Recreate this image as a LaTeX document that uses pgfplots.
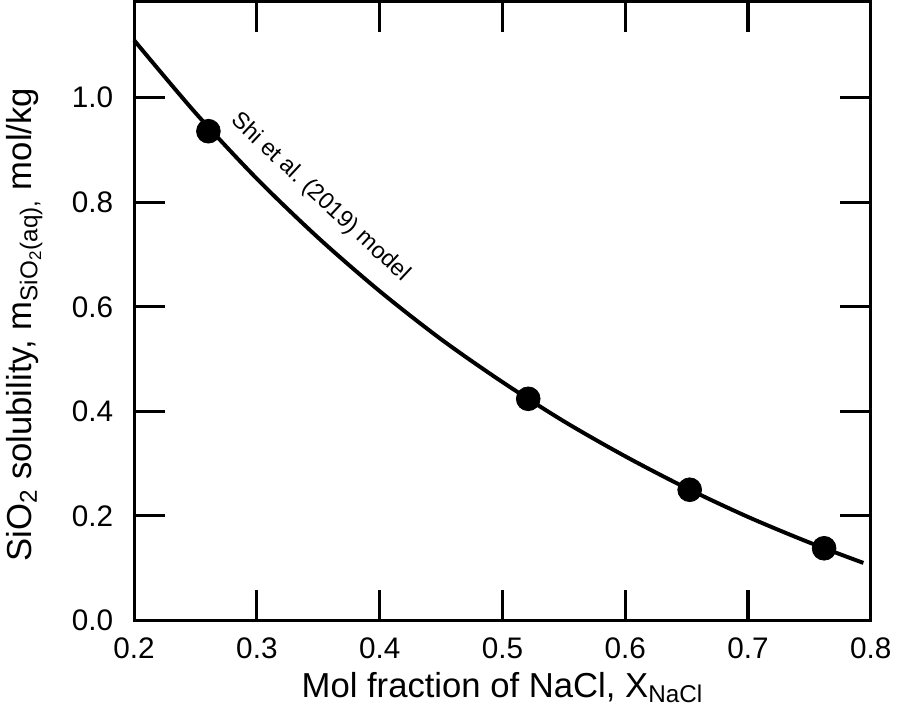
\documentclass[border=0pt]{standalone}
\usepackage{fontspec}
\setmainfont{Liberation Sans}
\usepackage{pgfplots}
\pgfplotsset{compat=1.18}
\begin{document}
\begin{tikzpicture}
\begin{axis}[
  name=ax,
  scale only axis,
  width=372pt, height=312.5pt,
  xmin=0.2, xmax=0.8,
  ymin=0, ymax=1.184,
  xtick={0.2,0.3,0.4,0.5,0.6,0.7,0.8},
  ytick={0,0.2,0.4,0.6,0.8,1.0},
  tick align=inside,
  major tick length=15.5pt,
  axis line style={line width=1.6pt},
  every tick/.style={line width=1.6pt, black},
  /pgf/number format/assume math mode=true,
  /pgf/number format/fixed,
  /pgf/number format/fixed zerofill,
  /pgf/number format/precision=1,
  ticklabel style={font=\fontsize{15}{17}\selectfont},
  xticklabel style={yshift=-5pt},
  yticklabel style={xshift=-7pt},
  xlabel={Mol fraction of NaCl, X\textsubscript{NaCl}},
  ylabel={SiO\textsubscript{2} solubility, m\textsubscript{SiO\textsubscript{2}(aq),}\ mol/kg},
  label style={font=\fontsize{17.5}{21}\selectfont},
  xlabel style={yshift=0pt},
  ylabel style={yshift=8pt, xshift=-7pt},
  clip=false,
]
\addplot[black, line width=2pt, smooth] coordinates {
(0.200,1.110) (0.250,0.971) (0.300,0.845) (0.350,0.732) (0.400,0.630)
(0.450,0.538) (0.500,0.456) (0.550,0.381) (0.600,0.314) (0.650,0.253)
(0.700,0.198) (0.750,0.149) (0.794,0.110)
};
\addplot[only marks, mark=*, mark size=6pt, black] coordinates {
(0.2605,0.936) (0.521,0.424) (0.6525,0.250) (0.762,0.138)
};
\node[rotate=-43, font=\fontsize{11.8}{13}\selectfont] at (axis cs:0.3515,0.809) {Shi et al.\ (2019) model};
\end{axis}
\path (ax.south west) ++(-65.5pt,-46pt) coordinate (bl);
\path (ax.north east) ++(11.5pt,0.5pt) coordinate (tr);
\path (bl) rectangle (tr);
\end{tikzpicture}
\end{document}
